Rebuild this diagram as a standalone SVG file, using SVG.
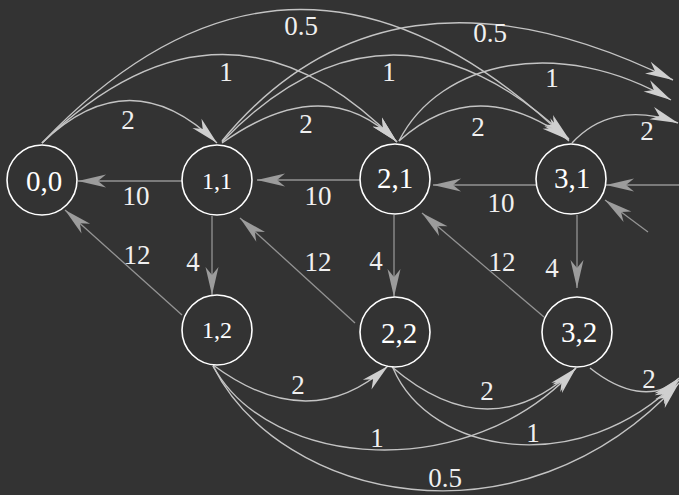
<svg xmlns="http://www.w3.org/2000/svg" width="679" height="495" viewBox="0 0 679 495">
<defs>
<marker id="ahL" viewBox="-30 -8 32 16" refX="0" refY="0" markerWidth="32" markerHeight="16" markerUnits="userSpaceOnUse" orient="auto">
<path d="M0,0 L-28,-6.5 L-20,0 L-28,6.5 Z" fill="#cfcfcf"/>
</marker>
<marker id="ahM" viewBox="-30 -8 32 16" refX="0" refY="0" markerWidth="32" markerHeight="16" markerUnits="userSpaceOnUse" orient="auto">
<path d="M0,0 L-28,-6.5 L-20,0 L-28,6.5 Z" fill="#9c9c9c"/>
</marker>
</defs>
<style>
.bg{fill:#333333}
.node circle{fill:none;stroke:#ffffff;stroke-width:1.6}
.node text{fill:#ffffff;text-anchor:middle;font-size:29px;font-family:'Liberation Serif',serif}
.node text.sm{font-size:24px}
.cv{fill:none;stroke:#c4c4c4;stroke-width:1.4;marker-end:url(#ahL)}
.st{fill:none;stroke:#949494;stroke-width:1.3;marker-end:url(#ahM)}
.lbl{fill:#f0f0f0;text-anchor:middle;font-size:27px;font-family:'Liberation Serif',serif}
</style>
<rect class="bg" x="0" y="0" width="679" height="495"/>
<g id="connectors">
<path class="cv" d="M42,143 Q130,58 217,143"/>
<path class="cv" d="M42,143 Q224.5,-33.5 397,142"/>
<path class="cv" d="M42,143 Q294.5,-123 569,141"/>
<path class="cv" d="M222,143 Q325.5,69.5 397,142"/>
<path class="cv" d="M222,142 Q388.5,-30.5 569,139"/>
<path class="cv" d="M222,141 C330,10 480,-15 673,80"/>
<path class="cv" d="M399,141 Q476,71.5 569,140"/>
<path class="cv" d="M399,141 C440,60 560,35 671,100"/>
<path class="cv" d="M572,143 C595,118 630,105 678,123"/>
<path class="cv" d="M213,365 Q309.5,436.5 388,366"/>
<path class="cv" d="M213,366 C270,470 470,485 576,368"/>
<path class="cv" d="M213,366 C280,500 520,555 679,383"/>
<path class="cv" d="M392,367 Q490,450.5 576,368"/>
<path class="cv" d="M393,368 C430,455 580,480 679,380"/>
<path class="cv" d="M590,368 C620,392 655,402 679,378"/>
<path class="st" d="M182,181 L78,181"/>
<path class="st" d="M360,180 L257,180"/>
<path class="st" d="M536,185 L433,185"/>
<path class="st" d="M679,185 L606,185"/>
<path class="st" d="M648,232 L605,200"/>
<path class="st" d="M212,216 L212,295"/>
<path class="st" d="M394,215 L394,297"/>
<path class="st" d="M577,215 L577,288"/>
<path class="st" d="M182,315 L65,210"/>
<path class="st" d="M355,323 L240,218"/>
<path class="st" d="M544,317 L422,213"/>
<text class="lbl" x="301" y="35">0.5</text>
<text class="lbl" x="226" y="81">1</text>
<text class="lbl" x="128" y="129">2</text>
<text class="lbl" x="306" y="133">2</text>
<text class="lbl" x="478" y="136">2</text>
<text class="lbl" x="389" y="81">1</text>
<text class="lbl" x="490" y="42">0.5</text>
<text class="lbl" x="552" y="87">1</text>
<text class="lbl" x="647" y="140">2</text>
<text class="lbl" x="136" y="205">10</text>
<text class="lbl" x="318" y="205">10</text>
<text class="lbl" x="501" y="212">10</text>
<text class="lbl" x="137" y="264">12</text>
<text class="lbl" x="193" y="271">4</text>
<text class="lbl" x="318" y="271">12</text>
<text class="lbl" x="376" y="270">4</text>
<text class="lbl" x="502" y="271">12</text>
<text class="lbl" x="552" y="277">4</text>
<text class="lbl" x="298" y="394">2</text>
<text class="lbl" x="487" y="400">2</text>
<text class="lbl" x="649" y="388">2</text>
<text class="lbl" x="377" y="447">1</text>
<text class="lbl" x="533" y="442">1</text>
<text class="lbl" x="445" y="487">0.5</text>
</g>
<g id="n00" class="node"><circle cx="42" cy="180" r="35"/><text x="44" y="191">0,0</text></g>
<g id="n11" class="node"><circle cx="217" cy="180" r="35"/><text class="sm" x="217" y="189">1,1</text></g>
<g id="n21" class="node"><circle cx="395" cy="179" r="35"/><text x="395" y="188">2,1</text></g>
<g id="n31" class="node"><circle cx="571" cy="179" r="35"/><text x="572" y="188">3,1</text></g>
<g id="n12" class="node"><circle cx="217" cy="330" r="35"/><text class="sm" x="217" y="338">1,2</text></g>
<g id="n22" class="node"><circle cx="395" cy="332" r="35"/><text x="399" y="343">2,2</text></g>
<g id="n32" class="node"><circle cx="577" cy="332" r="35"/><text x="579" y="342">3,2</text></g>
</svg>
